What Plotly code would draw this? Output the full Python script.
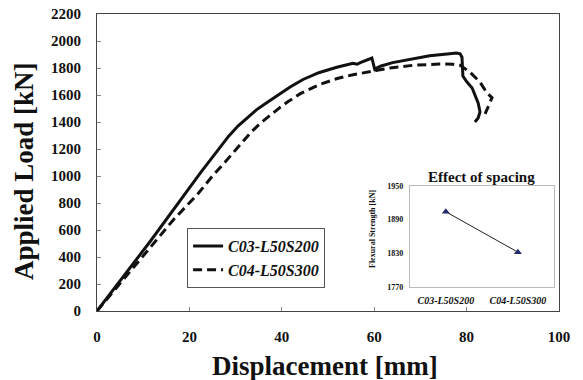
import plotly.graph_objects as go

# Main curves: Displacement [mm] vs Applied Load [kN]
c03_disp = [0, 11.5, 22.3, 24.5, 26.6, 28.5, 30.5, 32.4, 34.5, 36.8, 39.0, 41.8, 44.6, 48.0,
            51.9, 55.4, 56.3, 57.0, 59.5, 60.2, 60.6, 61.5, 64.0, 68.4, 72.0, 75.8, 77.8,
            78.6, 79.0, 79.2, 80.0, 81.2, 82.5, 82.9, 82.5, 81.8]
c03_load = [0, 515, 1020, 1120, 1215, 1295, 1370, 1430, 1490, 1545, 1598, 1660, 1715, 1765,
            1805, 1835, 1828, 1840, 1874, 1778, 1800, 1815, 1840, 1870, 1890, 1904, 1911,
            1905, 1880, 1740, 1700, 1652, 1541, 1474, 1430, 1400]

c04_disp = [0, 11.5, 16.5, 21.9, 25.0, 27.5, 29.5, 31.5, 33.5, 35.5, 37.4, 39.5, 41.3, 44.0,
            48.3, 52.0, 55.4, 60.6, 63.4, 68.4, 74.2, 77.0, 78.6, 80.7, 82.9, 84.4, 85.5, 84.0]
c04_load = [0, 467, 674, 870, 1000, 1095, 1175, 1255, 1330, 1395, 1450, 1505, 1550, 1610,
            1680, 1722, 1750, 1785, 1800, 1820, 1830, 1828, 1820, 1770, 1696, 1615, 1580, 1460]

series_names = ["C03-L50S200", "C04-L50S300"]

# Inset: flexural strength by specimen
inset_labels = ["C03-L50S200", "C04-L50S300"]
inset_values = [1904, 1832]

x_ticks = [0, 20, 40, 60, 80, 100]
y_ticks = [0, 200, 400, 600, 800, 1000, 1200, 1400, 1600, 1800, 2000, 2200]
inset_y_ticks = [1770, 1830, 1890, 1950]

FONT = "Liberation Serif"
INK = "#111111"

def bold(v):
    return "<b>%s</b>" % v

fig = go.Figure()
fig.add_trace(go.Scatter(x=c03_disp, y=c03_load, mode="lines", name=series_names[0],
                         line=dict(color=INK, width=3)))
fig.add_trace(go.Scatter(x=c04_disp, y=c04_load, mode="lines", name=series_names[1],
                         line=dict(color=INK, width=3, dash="9px,5px")))
fig.add_trace(go.Scatter(x=[0, 1], y=inset_values, mode="lines+markers", showlegend=False,
                         xaxis="x2", yaxis="y2",
                         line=dict(color="#222222", width=1),
                         marker=dict(symbol="triangle-up", size=7, color="#1f2a6b")))

fig.update_layout(
    width=583, height=380,
    margin=dict(l=97, r=24, t=14, b=69),
    paper_bgcolor="white", plot_bgcolor="white",
    font=dict(family=FONT, color=INK),
    xaxis=dict(range=[0, 100], tickvals=x_ticks, ticktext=[bold(v) for v in x_ticks],
               showgrid=False, zeroline=False, automargin=False,
               showline=True, linecolor="#444", linewidth=1, mirror=True,
               ticks="inside", ticklen=4, tickcolor="#888",
               tickfont=dict(size=15, family=FONT, color=INK),
               ticklabelstandoff=12, ticklabeloverflow="allow"),
    yaxis=dict(range=[0, 2200], tickvals=y_ticks, ticktext=[bold(v) for v in y_ticks],
               showgrid=False, zeroline=False, automargin=False,
               showline=True, linecolor="#444", linewidth=1, mirror=True,
               ticks="inside", ticklen=4, tickcolor="#888",
               tickfont=dict(size=15, family=FONT, color=INK),
               ticklabelstandoff=12, ticklabeloverflow="allow"),
    xaxis2=dict(domain=[0.677, 0.989], anchor="y2", range=[-0.5, 1.5],
                tickvals=[0, 1], ticktext=["<b><i>%s</i></b>" % t for t in inset_labels],
                showgrid=False, zeroline=False, showline=True, mirror=True, automargin=False,
                linecolor="#bbbbbb", linewidth=1, ticks="",
                tickfont=dict(size=10, family=FONT, color=INK), ticklabelstandoff=4),
    yaxis2=dict(domain=[0.081, 0.421], anchor="x2", range=[1770, 1950],
                tickvals=inset_y_ticks, ticktext=[bold(v) for v in inset_y_ticks],
                showgrid=False, zeroline=False, automargin=False,
                showline=True, mirror=True, linecolor="#bbbbbb", linewidth=1, ticks="",
                tickfont=dict(size=8, family=FONT, color=INK),
                ticklabelstandoff=4),
    legend=dict(x=0.195, y=0.279, xanchor="left", yanchor="top",
                bgcolor="white", bordercolor="#555", borderwidth=1,
                font=dict(size=16, family=FONT, color=INK, style="italic", weight="bold"),
                tracegroupgap=0, itemwidth=30),
    showlegend=True,
)

# axis titles
fig.add_annotation(text="<b>Displacement [mm]</b>", xref="paper", yref="paper",
                   x=0.494, y=-0.185, xanchor="center", yanchor="middle", showarrow=False,
                   font=dict(size=27, family=FONT, color=INK))
fig.add_annotation(text="<b>Applied Load [kN]</b>", xref="paper", yref="paper",
                   x=-0.158, y=0.471, textangle=-90, xanchor="center", yanchor="middle",
                   showarrow=False, font=dict(size=27, family=FONT, color=INK))
# inset titles
fig.add_annotation(text="<b>Effect of spacing</b>", xref="paper", yref="paper",
                   x=0.833, y=0.451, xanchor="center", yanchor="middle", showarrow=False,
                   font=dict(size=15, family=FONT, color=INK))
fig.add_annotation(text="<b>Flexural Strength [kN]</b>", xref="paper", yref="paper",
                   x=(373 - 97) / 462, y=(311 - 229) / 297, textangle=-90,
                   xanchor="center", yanchor="middle", showarrow=False,
                   font=dict(size=8, family=FONT, color=INK))

# remove the default page margin so the 583x380 figure fills the window exactly
fig.write_html("out.html", config={"displayModeBar": False},
               post_script="document.body.style.margin='0';document.body.style.overflow='hidden';")
